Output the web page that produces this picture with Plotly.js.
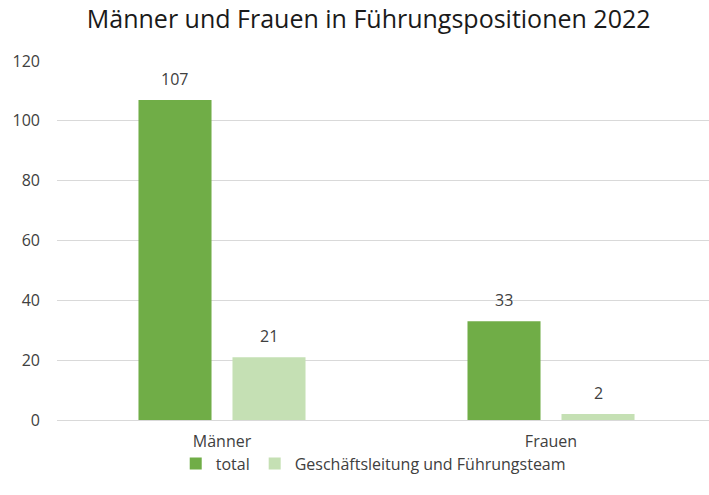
<!DOCTYPE html>
<html>
<head>
<meta charset="utf-8">
<script src="https://cdn.plot.ly/plotly-3.0.1.min.js"></script>
<style>html,body{margin:0;padding:0;background:#fff}#chart{width:709px;height:495px}</style>
</head>
<body>
<div id="chart"></div>
<script>
const categories = ["Männer", "Frauen"];
const seriesNames = ["total", "Geschäftsleitung und Führungsteam"];
const totalValues = [107, 33];
const leadershipValues = [21, 2];
const yTicks = [0, 20, 40, 60, 80, 100, 120];

const FONT = "Open Sans, Noto Sans, sans-serif";
const TXT = "#404040";
const BAR_OFFSET = 0.143; // half distance between grouped bar centres, in category units

const traces = [
  {type: "bar", name: seriesNames[0], x: categories, y: totalValues, marker: {color: "#70AD47"}},
  {type: "bar", name: seriesNames[1], x: categories, y: leadershipValues, marker: {color: "#C5E0B4"}}
];

const annotations = [];
[totalValues, leadershipValues].forEach((vals, s) => {
  vals.forEach((v, i) => {
    annotations.push({
      xref: "x", yref: "y", x: i + (s === 0 ? -BAR_OFFSET : BAR_OFFSET), y: v,
      text: String(v), showarrow: false, xanchor: "center", yanchor: "bottom", yshift: 8,
      font: {family: FONT, size: 16, color: TXT}
    });
  });
});

const layout = {
  width: 709, height: 495,
  margin: {l: 57, r: 0, t: 61, b: 75},
  paper_bgcolor: "#fff", plot_bgcolor: "#fff",
  font: {family: FONT, color: TXT, size: 16},
  title: {text: "Männer und Frauen in Führungspositionen 2022", x: 0.52, xanchor: "center", y: 0.962, yanchor: "middle",
          font: {family: FONT, size: 25, color: "#1a1a1a"}},
  barmode: "group", bargap: 0.4286, bargroupgap: 0.223,
  xaxis: {range: [-0.5015, 1.4802], showgrid: false, showline: false, zeroline: false, ticks: "",
          ticklabelstandoff: 10, tickfont: {family: FONT, size: 16, color: TXT}, automargin: false},
  yaxis: {range: [0, 120], tickvals: yTicks, showgrid: true, gridcolor: "#D9D9D9", gridwidth: 1,
          zeroline: true, zerolinecolor: "#D9D9D9", zerolinewidth: 1, showline: false, ticks: "",
          ticklabelstandoff: 16, tickfont: {family: FONT, size: 16, color: TXT}, automargin: false},
  annotations: annotations,
  legend: {orientation: "h", x: 0.485, xanchor: "center", y: -0.074, yanchor: "top",
           bgcolor: "rgba(0,0,0,0)",
           font: {family: FONT, size: 16, color: TXT}, itemwidth: 30, tracegroupgap: 0}
};

Plotly.newPlot("chart", traces, layout, {displayModeBar: false, staticPlot: true});
</script>
</body>
</html>
